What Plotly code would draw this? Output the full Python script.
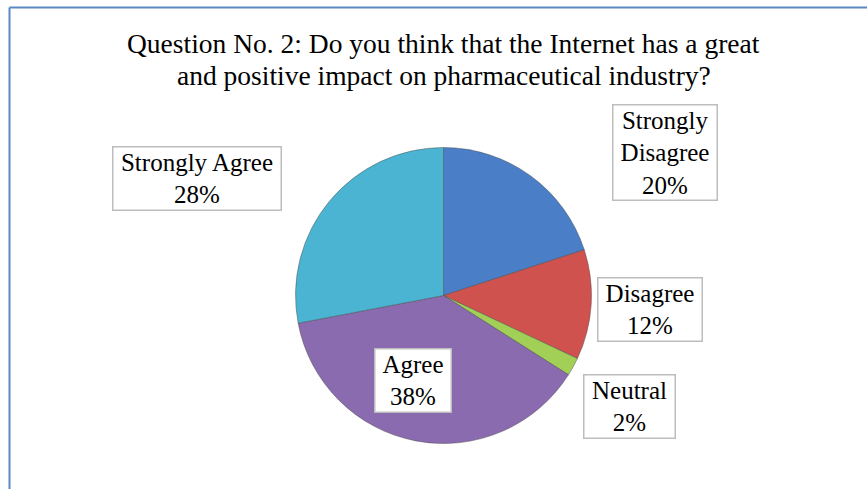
import plotly.graph_objects as go

W, H = 867, 489

categories = ["Strongly Disagree", "Disagree", "Neutral", "Agree", "Strongly Agree"]
values = [20, 12, 2, 38, 28]
colors = ["#4A7EC6", "#D0524F", "#A2CF55", "#8A6BAF", "#4AB4D2"]
label_lines = [["Strongly", "Disagree", "20%"], ["Disagree", "12%"], ["Neutral", "2%"],
               ["Agree", "38%"], ["Strongly Agree", "28%"]]
title_lines = ["Question No. 2: Do you think that the Internet has a great",
               "and positive impact on pharmaceutical industry?"]

# layout of the label boxes (pixel centres and box widths)
label_pos_px = [(665, 152), (650, 309), (629, 406), (413, 380), (197, 178)]
label_box_w = [105, 105, 92, 77, 169]

FONT = "Liberation Serif, Times New Roman, serif"

cx, cy, r = 443.5, 295.5, 148

def px(x):
    return x / W

def py(y):
    return 1 - y / H

fig = go.Figure(go.Pie(
    labels=categories, values=values, sort=False, direction="clockwise", rotation=0,
    marker=dict(colors=colors, line=dict(color="rgba(70,70,70,0.45)", width=1)),
    textinfo="none", hoverinfo="label+percent", showlegend=False,
    domain=dict(x=[px(cx - r), px(cx + r)], y=[py(cy + r), py(cy - r)]),
))

annotations = []
for i, line in enumerate(title_lines):
    annotations.append(dict(text=line, x=px(444), y=py(44 + 31 * i), xref="paper", yref="paper",
                            xanchor="center", yanchor="middle", showarrow=False,
                            font=dict(family=FONT, size=27.5, color="#000000")))
for lines, (x, y), bw in zip(label_lines, label_pos_px, label_box_w):
    annotations.append(dict(text="<br>".join(lines), x=px(x), y=py(y), xref="paper", yref="paper",
                            xanchor="center", yanchor="middle", showarrow=False, align="center",
                            width=bw - 4,
                            bgcolor="#FFFFFF", bordercolor="#BDBDBD", borderwidth=1.5, borderpad=1,
                            font=dict(family=FONT, size=25, color="#000000")))

shapes = [
    dict(type="line", xref="paper", yref="paper", x0=px(9.5), x1=1.0, y0=py(7.5), y1=py(7.5),
         line=dict(color="#5B87C4", width=2)),
    dict(type="line", xref="paper", yref="paper", x0=px(9.5), x1=px(9.5), y0=py(7.5), y1=0,
         line=dict(color="#5B87C4", width=2)),
]

fig.update_layout(width=W, height=H, margin=dict(l=0, r=0, t=0, b=0),
                  paper_bgcolor="#FFFFFF", plot_bgcolor="#FFFFFF",
                  annotations=annotations, shapes=shapes)

fig.write_html("out.html")
